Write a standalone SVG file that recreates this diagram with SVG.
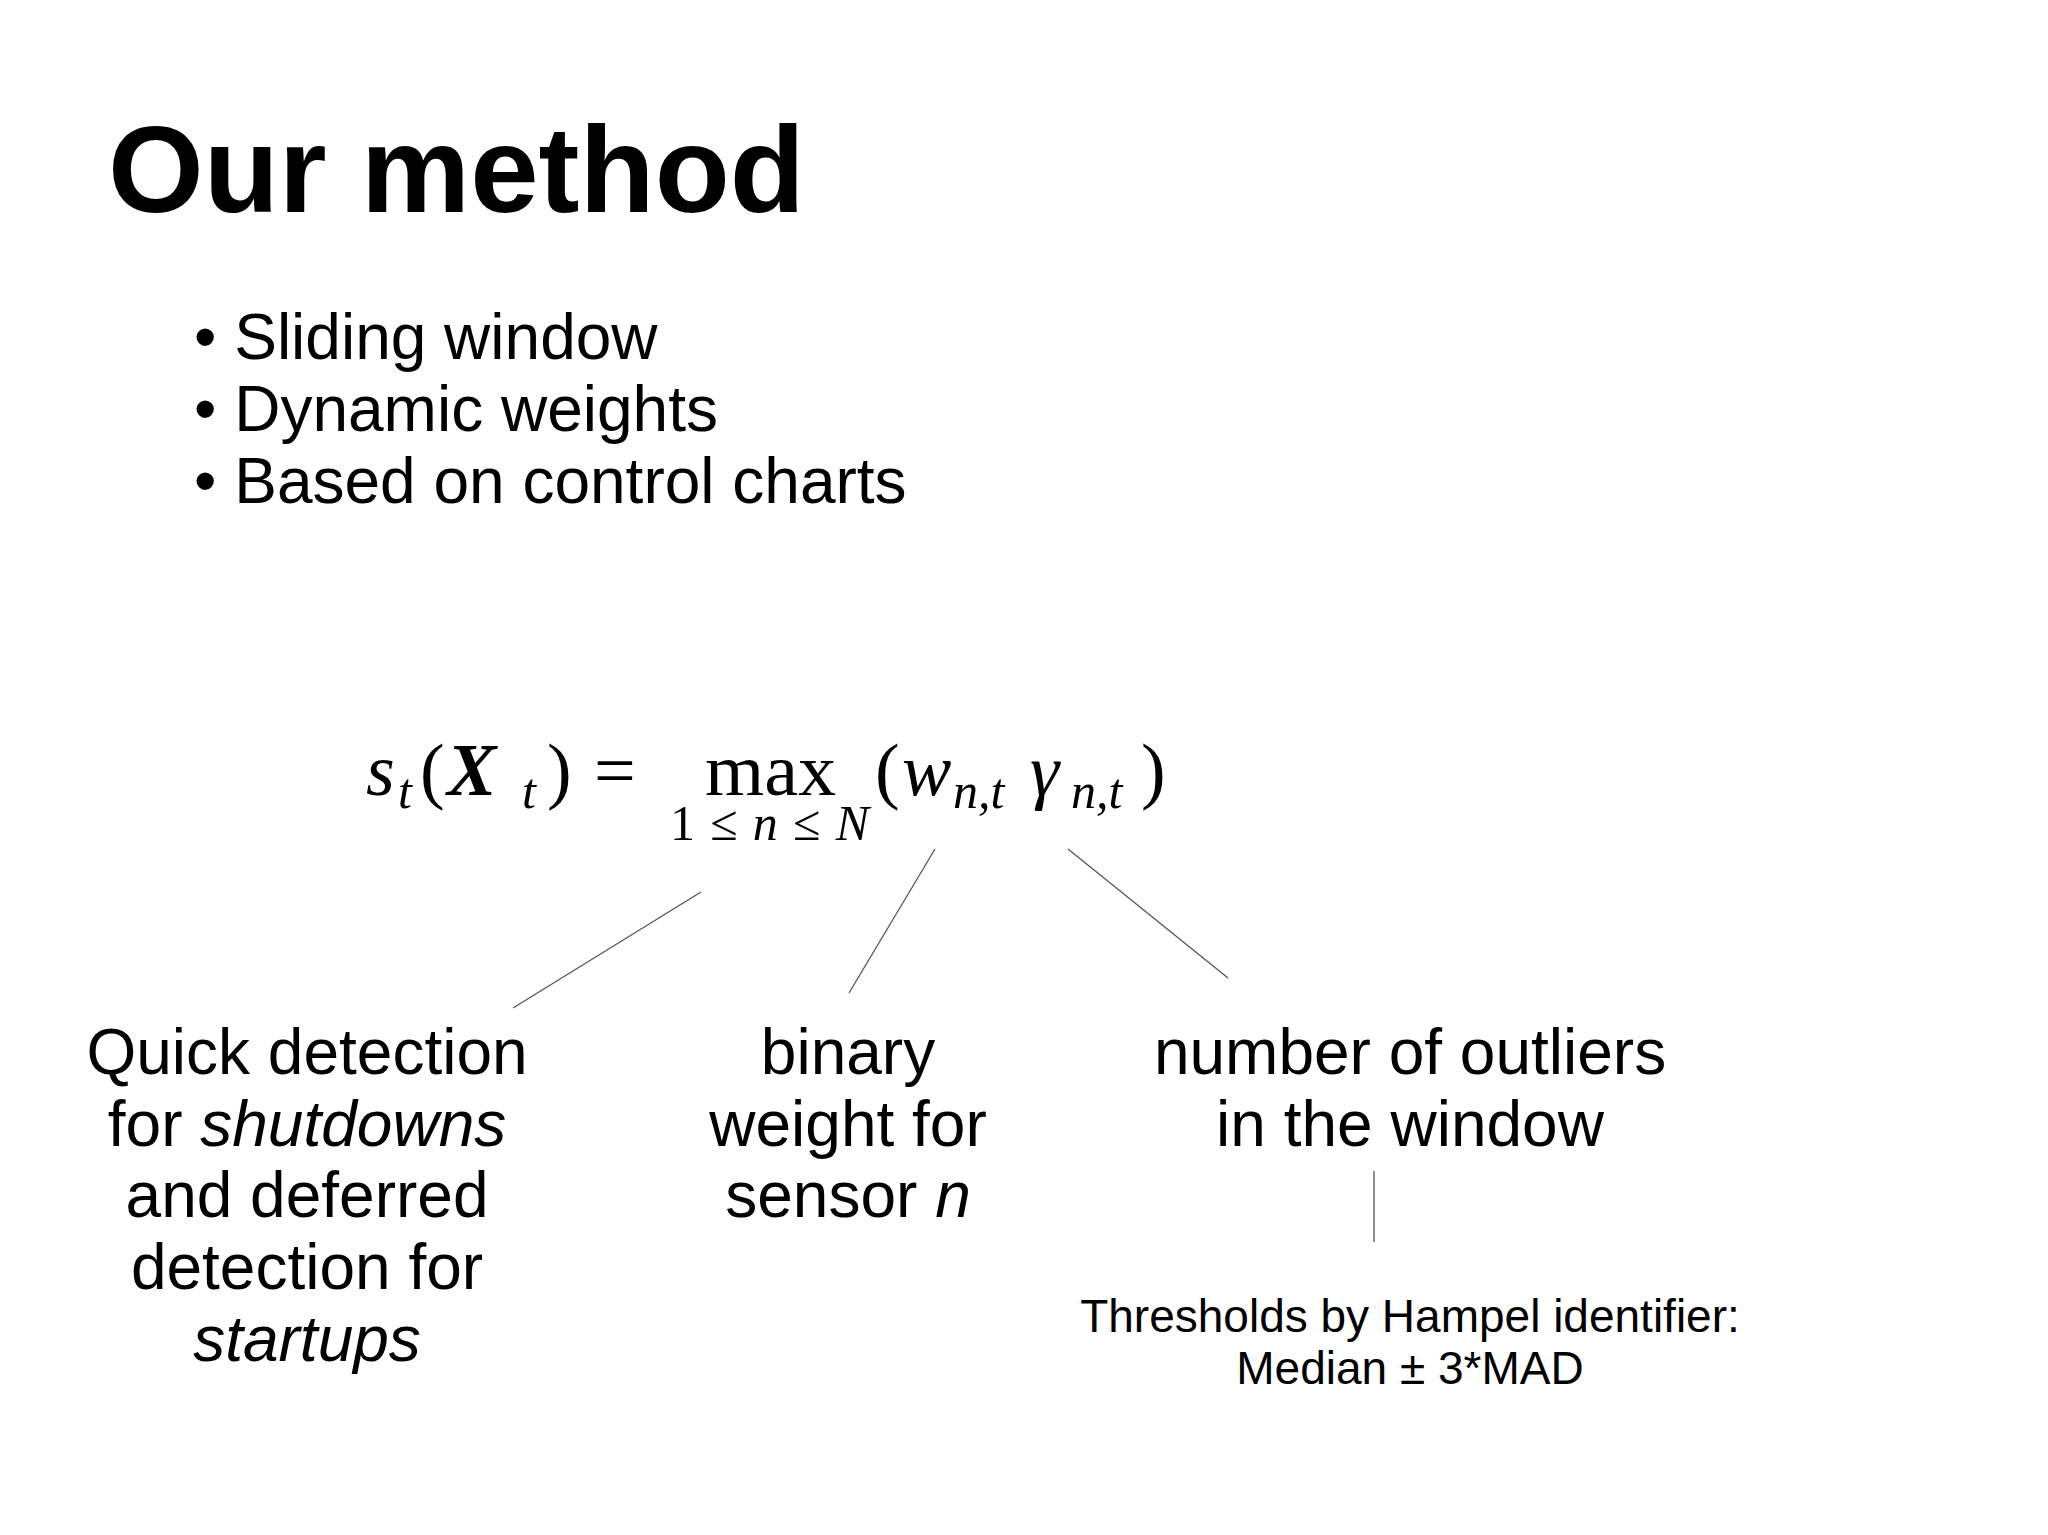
<svg xmlns="http://www.w3.org/2000/svg" width="2048" height="1535" viewBox="0 0 2048 1535">
<style>
.s{font-family:"Liberation Sans",Arial,sans-serif;fill:#000}
.m{font-family:"Liberation Serif","DejaVu Serif",serif;fill:#000}
.i{font-style:italic}
.sub{font-size:50px;font-style:italic}
.lbl{font-size:64px;text-anchor:middle}
.c{stroke:#555;stroke-width:1.3;fill:none}
</style>
<rect width="2048" height="1535" fill="#fff"/>
<g id="title"><text class="s" x="108" y="212" font-size="123" font-weight="bold">Our method</text></g>
<g id="bullets" class="s" font-size="64">
<text x="194" y="359">• Sliding window</text>
<text x="194" y="431">• Dynamic weights</text>
<text x="194" y="503">• Based on control charts</text>
</g>
<g id="formula" class="m" font-size="74">
<text x="366" y="795" class="i">s</text>
<text x="398" y="808" class="sub">t</text>
<text x="420" y="795">(</text>
<text x="447" y="795" class="i" font-weight="bold">X</text>
<text x="522" y="808" class="sub">t</text>
<text x="547" y="795">)</text>
<text x="594" y="795">=</text>
<text x="705" y="795" textLength="131" lengthAdjust="spacingAndGlyphs">max</text>
<text x="670" y="840" font-size="50" textLength="199" lengthAdjust="spacing">1≤<tspan class="i">n</tspan>≤<tspan class="i">N</tspan></text>
<text x="875" y="795">(</text>
<text x="902" y="795" class="i">w</text>
<text x="953" y="808" class="sub">n,t</text>
<text x="1030" y="795" class="i">γ</text>
<text x="1071" y="808" class="sub">n,t</text>
<text x="1141" y="795">)</text>
</g>
<g id="connectors">
<line class="c" x1="701" y1="892" x2="513" y2="1008"/>
<line class="c" x1="935" y1="849" x2="849" y2="993"/>
<line class="c" x1="1068" y1="849" x2="1228" y2="978"/>
<line class="c" x1="1374" y1="1171" x2="1374" y2="1242"/>
</g>
<g id="label-quick" class="s lbl">
<text x="307" y="1074">Quick detection</text>
<text x="307" y="1146">for <tspan font-style="italic">shutdowns</tspan></text>
<text x="307" y="1217">and deferred</text>
<text x="307" y="1289">detection for</text>
<text x="307" y="1361" font-style="italic">startups</text>
</g>
<g id="label-binary" class="s lbl">
<text x="848" y="1074">binary</text>
<text x="848" y="1146">weight for</text>
<text x="848" y="1217">sensor <tspan font-style="italic">n</tspan></text>
</g>
<g id="label-outliers" class="s lbl">
<text x="1410" y="1074">number of outliers</text>
<text x="1410" y="1146">in the window</text>
</g>
<g id="label-hampel" class="s" font-size="46" text-anchor="middle">
<text x="1410" y="1332">Thresholds by Hampel identifier:</text>
<text x="1410" y="1384">Median ± 3*MAD</text>
</g>
</svg>
